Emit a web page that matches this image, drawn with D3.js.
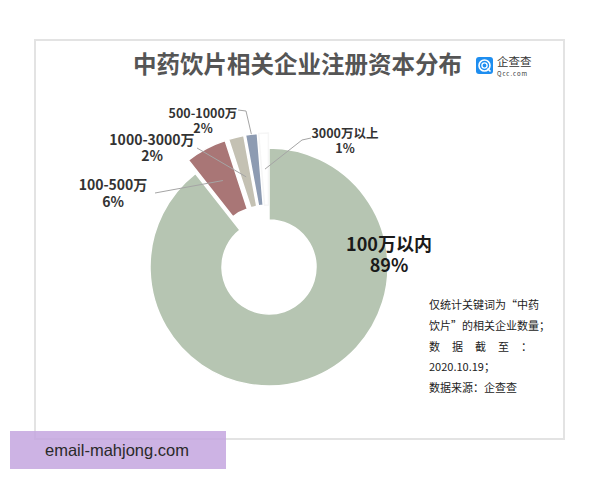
<!DOCTYPE html>
<html>
<head>
<meta charset="utf-8">
<script src="https://cdn.jsdelivr.net/npm/d3@7"></script>
<style>
body { margin: 0; background: #fff; }
</style>
</head>
<body>
<div id="chart"></div>
<script>
// data
const categories = ["100万以内", "100-500万", "1000-3000万", "500-1000万", "3000万以上"];
const shares = [89.4, 5.6, 2.1, 1.6, 1.3];
const sliceColors = ["#b6c5b2", "#a97676", "#c4c1b3", "#8d9bb2", "#ffffff"];
const noteLines = ["仅统计关键词为“中药", "饮片”的相关企业数量；", "数 据 截 至 ：", "2020.10.19；", "数据来源：企查查"];
const title = "中药饮片相关企业注册资本分布";

const svgWidth = 600, svgHeight = 480;
const cx = 269, cy = 267;
const innerR = 47, outerR = 119, explode = 15;
const cjk = "'Noto Sans CJK SC', 'Noto Sans', sans-serif";

const svg = d3.select("#chart").append("svg")
  .attr("width", svgWidth)
  .attr("height", svgHeight)
  .style("font-family", cjk);

// frame
svg.append("rect")
  .attr("x", 35).attr("y", 40)
  .attr("width", 529).attr("height", 399)
  .attr("fill", "#fff")
  .attr("stroke", "#e3e3e3")
  .attr("stroke-width", 2);

// title
svg.append("text")
  .attr("x", 133).attr("y", 73)
  .attr("font-size", 23.5)
  .attr("font-weight", "bold")
  .attr("fill", "#555")
  .text(title);

// logo
const logo = svg.append("g").attr("transform", "translate(476,57)");
logo.append("rect").attr("width", 17).attr("height", 17).attr("rx", 3).attr("fill", "#1e8ef0");
logo.append("circle").attr("cx", 8.5).attr("cy", 8.5).attr("r", 5.5)
  .attr("fill", "none").attr("stroke", "#fff").attr("stroke-width", 1.6);
logo.append("circle").attr("cx", 8.5).attr("cy", 8.5).attr("r", 2.6)
  .attr("fill", "none").attr("stroke", "#fff").attr("stroke-width", 1.3);
logo.append("line").attr("x1", 11.5).attr("y1", 11.5).attr("x2", 14.5).attr("y2", 14.5)
  .attr("stroke", "#fff").attr("stroke-width", 1.6);
svg.append("text").attr("x", 497).attr("y", 66)
  .attr("font-size", 11.5).attr("fill", "#333").text("企查查");
svg.append("text").attr("x", 497).attr("y", 75.5)
  .attr("font-size", 6).attr("fill", "#333").attr("letter-spacing", 1)
  .text("Qcc.com");

// pie
const pie = d3.pie().sort(null).value(d => d);
const arcs = pie(shares);
const arc = d3.arc().innerRadius(innerR).outerRadius(outerR);

function shift(d, i) {
  if (i === 0) return [0, 0];
  const mid = (d.startAngle + d.endAngle) / 2;
  return [explode * Math.sin(mid), -explode * Math.cos(mid)];
}

const chartGroup = svg.append("g").attr("transform", `translate(${cx}, ${cy})`);

chartGroup.selectAll("path")
  .data(arcs)
  .enter()
  .append("path")
  .attr("transform", (d, i) => `translate(${shift(d, i)})`)
  .attr("d", arc)
  .attr("fill", (d, i) => sliceColors[i])
  .attr("stroke", (d, i) => i === 4 ? "#f6f6f6" : "#fff")
  .attr("stroke-width", 1.5);

// labels
const fmt = d3.format(".0%");
const labelLayout = [
  { x: 389, y: 251, size: 18, gap: 21, color: "#1a1a1a", line: null },
  { x: 113, y: 190, size: 14, gap: 16.5, color: "#333", line: [[155, 193]], r: 83 },
  { x: 152, y: 145, size: 14, gap: 16, color: "#333", line: [[197, 148]], r: 78 },
  { x: 203, y: 118, size: 12.5, gap: 14.5, color: "#333", line: [[238, 110], [246, 111]], r: 119 },
  { x: 345, y: 138, size: 12.5, gap: 14.5, color: "#333", line: [[311, 138], [302, 140]], r: 83 }
];

arcs.forEach((d, i) => {
  const lay = labelLayout[i];
  const t = svg.append("text")
    .attr("text-anchor", "middle")
    .attr("font-size", lay.size)
    .attr("font-weight", "bold")
    .attr("fill", lay.color);
  t.append("tspan").attr("x", lay.x).attr("y", lay.y).text(categories[i]);
  t.append("tspan").attr("x", lay.x).attr("dy", lay.gap).text(fmt(d.data / 100));

  if (lay.line) {
    const [sx, sy] = shift(d, i);
    const mid = (d.startAngle + d.endAngle) / 2;
    const end = [cx + sx + lay.r * Math.sin(mid), cy + sy - lay.r * Math.cos(mid)];
    svg.append("path")
      .attr("d", d3.line()(lay.line.concat([end])))
      .attr("fill", "none")
      .attr("stroke", "#a5a5a5")
      .attr("stroke-width", 1);
  }
});

// note
const note = svg.append("g").attr("font-size", 11).attr("fill", "#222");
noteLines.forEach((s, i) => {
  const t = note.append("text")
    .attr("x", 429)
    .attr("y", 309 + i * 20.8)
    .text(s);
  if (i === 2) t.attr("textLength", 103).attr("lengthAdjust", "spacing");
});

// watermark
svg.append("rect")
  .attr("x", 10).attr("y", 431)
  .attr("width", 216).attr("height", 38)
  .attr("fill", "#c4a6df")
  .attr("opacity", 0.85);
svg.append("text")
  .attr("x", 45).attr("y", 456)
  .style("font-family", "'Liberation Sans', Arial, sans-serif")
  .attr("font-size", 16.5)
  .attr("fill", "#2a2a2a")
  .text("email-mahjong.com");
</script>
</body>
</html>
